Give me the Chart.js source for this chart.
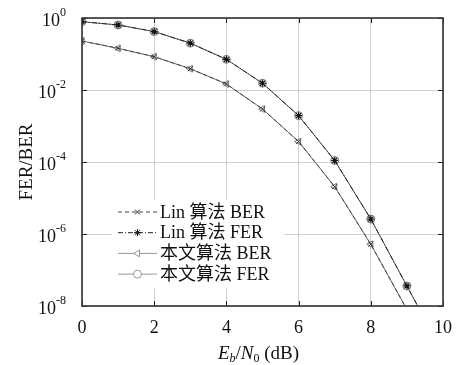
<!DOCTYPE html>
<html>
<head>
<meta charset="utf-8">
<script src="https://cdn.jsdelivr.net/npm/chart.js"></script>
<style>
  html, body { margin: 0; padding: 0; background: #fff; }
  #wrap { width: 463px; height: 365px; }
</style>
</head>
<body>
<div id="wrap"><canvas id="chart"></canvas></div>
<script>
// Eb/N0 (dB)
const snr = [0, 1, 2, 3, 4, 5, 6, 7, 8, 9, 10];

const linBer = [0.23, 0.144, 0.084, 0.039, 0.0147, 2.96e-3, 3.7e-4, 2.06e-5, 5.2e-7, 8e-9];
const linFer = [0.79, 0.64, 0.42, 0.20, 0.071, 0.0154, 1.94e-3, 1.1e-4, 2.6e-6, 3.6e-8, 5e-10];
const oursBer = [0.23, 0.144, 0.084, 0.039, 0.0147, 2.96e-3, 3.7e-4, 2.06e-5, 5.2e-7, 8e-9];
const oursFer = [0.79, 0.64, 0.42, 0.20, 0.071, 0.0154, 1.94e-3, 1.1e-4, 2.6e-6, 3.6e-8, 5e-10];

const seriesNames = ['Lin 算法 BER', 'Lin 算法 FER', '本文算法 BER', '本文算法 FER'];

const xTicks = [0, 2, 4, 6, 8, 10];
const yTicks = [1, 1e-2, 1e-4, 1e-6, 1e-8];
const yTickExp = ['0', '-2', '-4', '-6', '-8'];

const FONT = "'Liberation Serif', 'DejaVu Serif', 'Noto Sans CJK SC', serif";

const pts = (vals) => vals.map((v, i) => ({ x: snr[i], y: v }));

const datasets = [
    {
        label: seriesNames[0],
        data: pts(linBer),
        borderColor: '#444',
        borderWidth: 1,
        borderDash: [4, 3],
        pointStyle: 'crossRot',
        pointRadius: 3.5,
        pointBorderColor: '#333',
        pointBorderWidth: 1,
        clip: 0
    },
    {
        label: seriesNames[1],
        data: pts(linFer),
        borderColor: '#222',
        borderWidth: 1,
        borderDash: [5, 2, 1, 2],
        pointStyle: 'star',
        pointRadius: 3.5,
        pointBorderColor: '#111',
        pointBorderWidth: 1.2,
        clip: 0
    },
    {
        label: seriesNames[2],
        data: pts(oursBer),
        borderColor: '#666',
        borderWidth: 1,
        pointStyle: 'triangle',
        rotation: -90,
        pointRadius: 4,
        pointBorderColor: '#777',
        pointBackgroundColor: 'rgba(0,0,0,0)',
        pointBorderWidth: 1,
        clip: 0
    },
    {
        label: seriesNames[3],
        data: pts(oursFer),
        borderColor: '#555',
        borderWidth: 1,
        pointStyle: 'circle',
        pointRadius: 4,
        pointBorderColor: '#777',
        pointBackgroundColor: 'rgba(0,0,0,0)',
        pointBorderWidth: 1,
        clip: 0
    }
];

// legend, inner ticks, frame, y labels with exponents and the x title with subscripts
const decor = {
    id: 'decor',
    afterDatasetsDraw(chart) {
        const ctx = chart.ctx;
        const { left, right, top, bottom } = chart.chartArea;
        const xs = chart.scales.x, ys = chart.scales.y;
        ctx.save();

        // legend box inside the plot
        const lx = left + 30, ly = top + 182;
        ctx.fillStyle = '#fff';
        ctx.fillRect(lx, ly, 172, 88);
        const rowH = 20.7;
        datasets.forEach((ds, i) => {
            const y = ly + 12 + i * rowH;
            const x0 = lx + 6, x1 = lx + 45;
            ctx.strokeStyle = i < 2 ? ds.borderColor : '#999';
            ctx.lineWidth = 1;
            ctx.setLineDash(ds.borderDash || []);
            ctx.beginPath();
            ctx.moveTo(x0, y);
            ctx.lineTo(x1, y);
            ctx.stroke();
            ctx.setLineDash([]);
            ctx.fillStyle = '#fff';
            ctx.strokeStyle = i < 2 ? ds.pointBorderColor : '#999';
            ctx.lineWidth = 1;
            Chart.helpers.drawPoint(ctx, {
                pointStyle: ds.pointStyle,
                rotation: ds.rotation || 0,
                radius: ds.pointRadius,
                borderWidth: 1
            }, (x0 + x1) / 2, y);
            ctx.fillStyle = '#111';
            ctx.font = '18px ' + FONT;
            ctx.textBaseline = 'middle';
            ctx.textAlign = 'left';
            ctx.fillText(ds.label, x1 + 3, y + 1);
        });

        // inner tick marks
        ctx.strokeStyle = '#222';
        ctx.lineWidth = 1;
        xTicks.forEach(v => {
            const x = Math.round(xs.getPixelForValue(v)) + 0.5;
            ctx.beginPath();
            ctx.moveTo(x, bottom); ctx.lineTo(x, bottom - 5);
            ctx.moveTo(x, top); ctx.lineTo(x, top + 5);
            ctx.stroke();
        });
        yTicks.forEach(v => {
            const y = Math.round(ys.getPixelForValue(v)) + 0.5;
            ctx.beginPath();
            ctx.moveTo(left, y); ctx.lineTo(left + 5, y);
            ctx.moveTo(right, y); ctx.lineTo(right - 5, y);
            ctx.stroke();
        });

        // frame
        ctx.strokeStyle = '#333';
        ctx.lineWidth = 1.6;
        ctx.strokeRect(left, top, right - left, bottom - top);

        // y tick labels 10^n
        ctx.fillStyle = '#111';
        ctx.textBaseline = 'middle';
        yTicks.forEach((v, i) => {
            const y = ys.getPixelForValue(v) + 3;
            ctx.font = '12px ' + FONT;
            const ew = ctx.measureText(yTickExp[i]).width;
            ctx.textAlign = 'left';
            const ex = left - 16 - ew;
            ctx.fillText(yTickExp[i], ex, y - 8);
            ctx.font = '18px ' + FONT;
            ctx.textAlign = 'right';
            ctx.fillText('10', ex, y);
        });

        // x title: E_b/N_0 (dB)
        const parts = [
            { t: 'E', f: 'italic 19px ', dy: 0 },
            { t: 'b', f: 'italic 12px ', dy: 3 },
            { t: '/', f: '19px ', dy: 0 },
            { t: 'N', f: 'italic 19px ', dy: 0 },
            { t: '0', f: '12px ', dy: 3 },
            { t: ' (dB)', f: '19px ', dy: 0 }
        ];
        ctx.textAlign = 'left';
        ctx.textBaseline = 'alphabetic';
        let w = 0;
        parts.forEach(p => { ctx.font = p.f + FONT; w += ctx.measureText(p.t).width; });
        let x = (left + right) / 2 - w / 2 - 4;
        const base = 359;
        parts.forEach(p => {
            ctx.font = p.f + FONT;
            ctx.fillText(p.t, x, base + p.dy);
            x += ctx.measureText(p.t).width;
        });
        ctx.restore();
    }
};

const chart = document.querySelector('#chart').getContext('2d');
new Chart(chart, {
    type: 'line',
    data: { datasets: datasets },
    options: {
        responsive: true,
        maintainAspectRatio: false,
        animation: false,
        layout: { padding: { top: 18, right: 11, left: 0, bottom: 0 } },
        plugins: {
            legend: { display: false },
            tooltip: { enabled: false }
        },
        scales: {
            x: {
                type: 'linear',
                min: 0,
                max: 10,
                afterBuildTicks: (s) => { s.ticks = xTicks.map(v => ({ value: v })); },
                afterFit: (s) => { s.height = 59; },
                grid: { color: '#cfcfcf', drawTicks: false },
                border: { display: false },
                ticks: {
                    padding: 11,
                    color: '#111',
                    font: { family: FONT, size: 18 },
                    maxRotation: 0,
                    callback: (v) => String(v)
                }
            },
            y: {
                type: 'logarithmic',
                min: 1e-8,
                max: 1,
                afterBuildTicks: (s) => { s.ticks = yTicks.map(v => ({ value: v })); },
                afterFit: (s) => { s.width = 82; },
                grid: { color: '#cfcfcf', drawTicks: false },
                border: { display: false },
                ticks: { display: false },
                title: {
                    display: true,
                    text: 'FER/BER',
                    color: '#111',
                    font: { family: FONT, size: 19 },
                    padding: { top: 16, bottom: 0 }
                }
            }
        }
    },
    plugins: [decor]
});
</script>
</body>
</html>
